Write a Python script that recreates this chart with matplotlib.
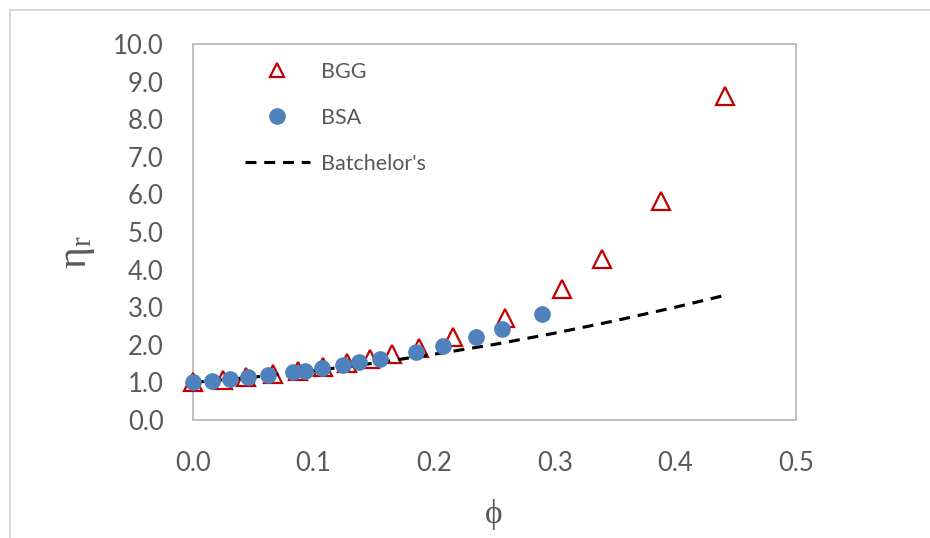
import matplotlib
matplotlib.use('Agg')
import matplotlib.pyplot as plt
from matplotlib.lines import Line2D

plt.rcParams['font.family'] = ['Lato', 'DejaVu Sans']
plt.rcParams['mathtext.fontset'] = 'custom'
plt.rcParams['mathtext.rm'] = 'Liberation Serif'
plt.rcParams['mathtext.it'] = 'Liberation Serif'

# BGG data (triangles)
bgg_phi = [0.0, 0.025, 0.044, 0.066, 0.087, 0.108, 0.128, 0.147, 0.165, 0.187,
           0.216, 0.259, 0.306, 0.339, 0.388, 0.441]
bgg_eta = [1.0, 1.06, 1.14, 1.22, 1.30, 1.40, 1.51, 1.63, 1.75, 1.92,
           2.20, 2.72, 3.48, 4.28, 5.82, 8.63]

# BSA data (circles)
bsa_phi = [0.0, 0.016, 0.031, 0.046, 0.062, 0.083, 0.093, 0.107, 0.124, 0.138,
           0.155, 0.185, 0.207, 0.235, 0.256, 0.289]
bsa_eta = [1.0, 1.04, 1.09, 1.14, 1.19, 1.28, 1.31, 1.39, 1.45, 1.55,
           1.62, 1.80, 1.98, 2.21, 2.42, 2.82]

# Batchelor's curve
bat_phi = [0.0, 0.05, 0.10, 0.15, 0.20, 0.25, 0.30, 0.35, 0.40, 0.443]
bat_eta = [1.0, 1.14, 1.31, 1.51, 1.75, 2.01, 2.31, 2.64, 3.00, 3.33]

xticks = [0.0, 0.1, 0.2, 0.3, 0.4, 0.5]
yticks = [0, 1, 2, 3, 4, 5, 6, 7, 8, 9, 10]

W, H = 930, 538
fig = plt.figure(figsize=(W / 100, H / 100), dpi=100)
ax = fig.add_axes([193 / W, (H - 420) / H, (796 - 193) / W, (420 - 44) / H])

red = '#C00000'
blue = '#4F81BD'
label_col = '#595959'
dash = (3.5, 2.5)

ax.plot(bgg_phi, bgg_eta, linestyle='none', marker='^', markersize=13,
        markerfacecolor='white', markeredgecolor=red, markeredgewidth=1.6,
        clip_on=False, zorder=3)
ax.plot(bat_phi, bat_eta, color='black', linewidth=2.25, dashes=dash,
        zorder=4)
ax.plot(bsa_phi, bsa_eta, linestyle='none', marker='o', markersize=11,
        markerfacecolor=blue, markeredgecolor=blue, clip_on=False, zorder=5)

ax.set_xlim(0, 0.5)
ax.set_ylim(0, 10)
ax.set_xticks(xticks)
ax.set_xticklabels([f'{t:.1f}' for t in xticks])
ax.set_yticks(yticks)
ax.set_yticklabels([f'{t:.1f}' for t in yticks])
ax.tick_params(length=0, labelsize=18.5, labelcolor=label_col)
ax.tick_params(axis='y', pad=21)
ax.tick_params(axis='x', pad=22)
for s in ax.spines.values():
    s.set_color('#BFBFBF')
    s.set_linewidth(1.4)

fig.text(78 / W, 1 - 252 / H, r'$\mathrm{\eta_r}$', rotation=90, fontsize=30,
         color=label_col, ha='center', va='center')
fig.text(494 / W, 1 - 515 / H, 'ϕ', fontsize=24, color=label_col,
         ha='center', va='center', family=['Liberation Serif', 'DejaVu Serif'])

handles = [
    Line2D([], [], linestyle='none', marker='^', markersize=10,
           markerfacecolor='white', markeredgecolor=red, markeredgewidth=1.6),
    Line2D([], [], linestyle='none', marker='o', markersize=11,
           markerfacecolor=blue, markeredgecolor=blue),
    Line2D([], [], color='black', linewidth=2.25, dashes=dash),
]
ax.legend(handles, ['BGG', 'BSA', "Batchelor's"], loc='upper left',
          bbox_to_anchor=(245 / W, 1 - 62 / H), bbox_transform=fig.transFigure,
          frameon=False, fontsize=15.5, labelcolor=label_col, numpoints=1,
          handlelength=3.0, handletextpad=0.55, labelspacing=1.2,
          borderpad=0, borderaxespad=0)

# outer chart border (top and left edges visible)
fig.add_artist(Line2D([10 / W, 10 / W], [0, 1 - 10 / H], color='#D9D9D9',
                      linewidth=1.4, transform=fig.transFigure))
fig.add_artist(Line2D([10 / W, 1], [1 - 10 / H, 1 - 10 / H], color='#D9D9D9',
                      linewidth=1.4, transform=fig.transFigure))

plt.savefig('out.png', dpi=100)
